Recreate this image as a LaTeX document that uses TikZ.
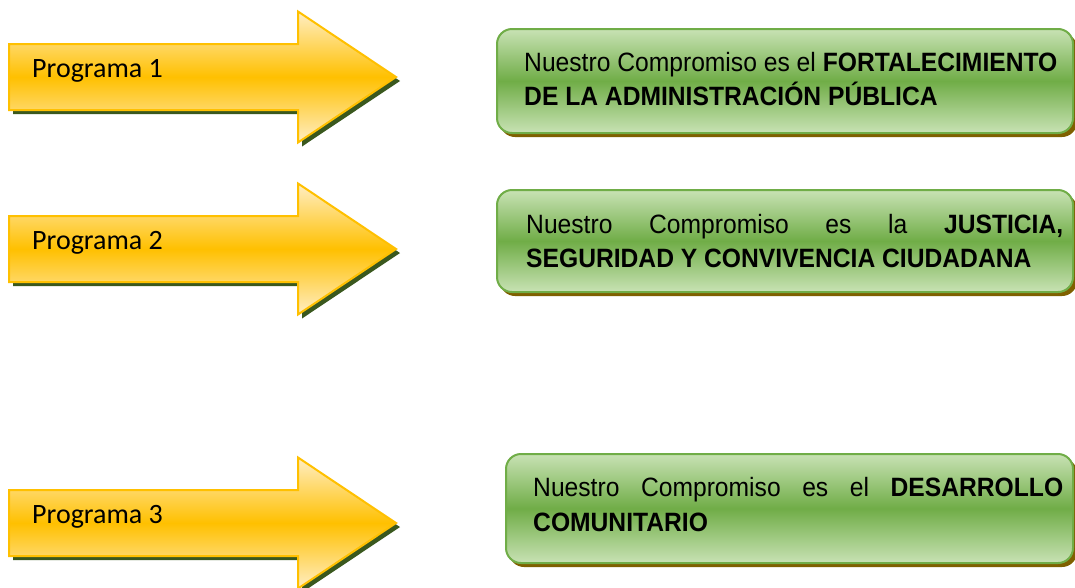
\documentclass[tikz,border=0pt]{standalone}
\usepackage{fontspec}
\newfontfamily\boxfont[FakeStretch=0.93, BoldFont={Liberation Sans Bold}, BoldFeatures={FakeStretch=0.93}]{Liberation Sans}
\newfontfamily\progfont{Carlito}
\definecolor{arrowedge}{RGB}{255,192,0}
\definecolor{arrowlight}{RGB}{255,238,196}
\definecolor{arrowmid}{RGB}{255,192,0}
\definecolor{arrowshadowc}{RGB}{58,88,30}
\definecolor{boxedge}{RGB}{112,173,71}
\definecolor{boxlight}{RGB}{200,226,180}
\definecolor{boxmid}{RGB}{112,173,71}
\definecolor{boxshadowc}{RGB}{127,96,0}
\tikzset{
  arrowfill/.style={draw=arrowedge, line width=2pt, line join=miter,
    top color=arrowlight, bottom color=arrowlight, middle color=arrowmid},
  arrowshade/.style={fill=arrowshadowc},
  boxfill/.style={draw=boxedge, line width=2pt, rounded corners=15pt,
    top color=boxlight, bottom color=boxlight, middle color=boxmid},
  boxshade/.style={fill=boxshadowc, rounded corners=15pt},
  progtext/.style={font=\progfont\fontsize{28}{34}\selectfont, inner sep=0pt, anchor=base west},
  boxtext/.style={font=\boxfont\fontsize{26.5}{33}\selectfont, inner sep=0pt, anchor=base west},
  progarrow/.pic={
    \fill[arrowshade, shift={(4,4)}] (9,-33) -- (298,-33) -- (298,-65.5) -- (396,0) -- (298,65.5) -- (298,33) -- (9,33) -- cycle;
    \path[arrowfill] (9,-33) -- (298,-33) -- (298,-65.5) -- (396,0) -- (298,65.5) -- (298,33) -- (9,33) -- cycle;
  }
}
\begin{document}
\begin{tikzpicture}[x=1pt,y=-1pt]
\useasboundingbox (0,0) rectangle (1075,587);
\fill[white] (0,0) rectangle (1075,587);

% arrows
\pic at (0,77) {progarrow};
\pic at (0,249) {progarrow};
\pic at (0,523) {progarrow};
\node[progtext] (p1) at (32,77) {Programa 1};
\node[progtext] (p2) at (32,249) {Programa 2};
\node[progtext] (p3) at (32,523) {Programa 3};

% boxes
\fill[boxshade] (500,33) rectangle (1077,137);
\path[boxfill] (497,29) rectangle (1073,133);
\fill[boxshade] (500,194) rectangle (1077,296);
\path[boxfill] (497,190) rectangle (1073,292);
\fill[boxshade] (509,458) rectangle (1077,567);
\path[boxfill] (506,454) rectangle (1073,563);

\node[boxtext] (b1a) at (524,71.5) {Nuestro Compromiso es el \textbf{FORTALECIMIENTO}};
\node[boxtext] (b1b) at (524,105) {\textbf{DE LA ADMINISTRACIÓN PÚBLICA}};
\node[boxtext] (b2a) at (526,233.5) {\makebox[537pt][s]{Nuestro Compromiso es la \textbf{JUSTICIA,}}};
\node[boxtext] (b2b) at (526,267.5) {\textbf{SEGURIDAD Y CONVIVENCIA CIUDADANA}};
\node[boxtext] (b3a) at (533,496) {\makebox[530pt][s]{Nuestro Compromiso es el \textbf{DESARROLLO}}};
\node[boxtext] (b3b) at (533,531) {\textbf{COMUNITARIO}};
\end{tikzpicture}
\end{document}
